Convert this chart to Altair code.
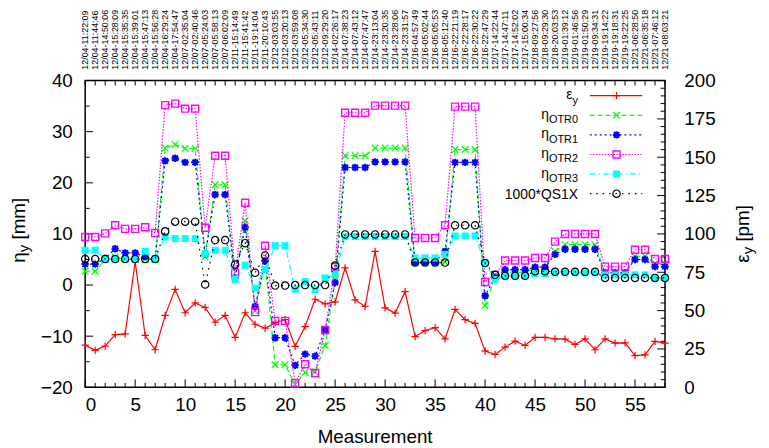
import altair as alt
import pandas as pd

# ---------------- data ----------------
measurement = list(range(59))

timestamps = [
    "12/04-11:22:09", "12/04-11:44:46", "12/04-14:50:06", "12/04-15:28:09", "12/04-15:35:35",
    "12/04-15:39:01", "12/04-15:47:13", "12/04-15:56:28", "12/04-16:29:24", "12/04-17:54:47",
    "12/07-02:35:04", "12/07-02:40:46", "12/07-05:24:03", "12/07-05:58:13", "12/07-06:02:09",
    "12/11-15:14:49", "12/11-15:41:42", "12/11-19:14:04", "12/11-20:10:43", "12/12-03:03:55",
    "12/12-03:20:13", "12/12-03:59:08", "12/12-05:34:30", "12/12-05:43:11", "12/12-09:29:20",
    "12/14-02:26:17", "12/14-07:38:23", "12/14-07:43:12", "12/14-07:47:47", "12/14-23:13:04",
    "12/14-23:20:35", "12/14-23:28:06", "12/14-23:31:57", "12/16-04:57:49", "12/16-05:02:44",
    "12/16-05:05:53", "12/16-05:12:40", "12/16-22:21:19", "12/16-22:28:17", "12/16-22:30:22",
    "12/16-22:47:29", "12/17-14:22:44", "12/17-14:47:11", "12/17-14:52:02", "12/17-15:00:34",
    "12/18-09:27:56", "12/18-09:29:30", "12/18-20:03:53", "12/19-01:39:12", "12/19-01:46:56",
    "12/19-01:50:29", "12/19-09:34:31", "12/19-19:14:22", "12/19-19:18:31", "12/19-19:22:25",
    "12/21-06:28:50", "12/21-06:35:18", "12/21-07:46:12", "12/21-08:03:21",
]

# emittance eps_y [pm] (right axis)
eps_y = [27.5, 24.1, 26.9, 34.4, 34.8, 81.7, 33.8, 24.5, 46.9, 63.9,
         48.6, 55.0, 52.1, 42.4, 46.9, 32.5, 48.6, 41.1, 38.5, 42.0,
         44.1, 26.7, 39.6, 57.4, 54.4, 55.7, 77.9, 57.0, 52.7, 88.6,
         51.8, 48.4, 62.4, 33.1, 37.0, 38.9, 31.6, 50.8, 44.1, 41.7,
         23.7, 21.4, 26.2, 30.1, 27.3, 32.5, 32.5, 31.6, 31.4, 27.9,
         31.6, 24.5, 31.6, 28.8, 29.0, 20.6, 21.1, 29.9, 28.8]

# dispersions eta_y [mm] (left axis)
eta_otr0 = [2.7, 2.7, 5.0, 5.5, 5.0, 5.0, 5.0, 5.0, 26.8, 27.5,
            26.7, 26.7, 5.5, 19.6, 19.6, 1.0, 12.6, -5.0, 4.5, -15.6,
            -15.6, -19.4, -17.1, -17.0, -11.8, 1.0, 25.3, 25.3, 25.3, 26.8,
            26.8, 26.8, 26.8, 4.3, 4.3, 4.3, 4.5, 26.5, 26.5, 26.5,
            -4.0, 1.7, 2.5, 2.5, 2.5, 3.3, 3.3, 6.6, 7.9, 7.9,
            7.9, 7.9, 2.4, 2.4, 2.4, 5.6, 5.6, 4.2, 4.2]
eta_otr1 = [4.1, 4.1, 5.2, 7.1, 6.3, 6.3, 5.6, 5.1, 24.3, 24.8,
            24.0, 24.0, 6.0, 17.7, 17.7, 1.4, 11.3, -4.2, 4.7, -10.3,
            -10.3, -15.7, -13.5, -13.9, -8.8, 0.5, 23.0, 23.0, 23.0, 24.1,
            24.1, 24.1, 24.1, 4.5, 4.5, 4.5, 6.6, 24.0, 24.0, 24.0,
            -2.1, 1.5, 3.0, 3.0, 3.0, 3.5, 3.5, 6.0, 7.0, 7.0,
            7.0, 7.0, 2.4, 2.4, 2.4, 5.0, 5.0, 3.6, 3.6]
eta_otr2 = [9.4, 9.4, 10.1, 11.7, 11.0, 11.0, 11.3, 10.2, 35.2, 35.5,
            34.5, 34.5, 11.2, 25.3, 25.3, 2.4, 16.1, -5.3, 7.7, -7.0,
            -7.0, -19.2, -15.5, -17.2, -8.8, 3.5, 33.7, 33.7, 33.7, 35.1,
            35.1, 35.1, 35.1, 9.2, 9.2, 9.2, 11.7, 34.9, 34.9, 34.9,
            0.6, 2.0, 4.8, 4.8, 4.8, 5.3, 5.3, 8.5, 10.0, 10.0,
            10.0, 10.0, 3.6, 3.6, 3.6, 6.9, 6.9, 5.1, 5.1]
eta_otr3 = [6.8, 6.8, 5.1, 5.1, 5.1, 5.1, 6.6, 5.1, 9.4, 9.1,
            9.1, 9.1, 6.1, 6.8, 6.8, 1.2, 3.9, -0.6, 3.0, 7.7,
            7.7, -0.8, 0.7, -0.9, 1.4, 2.1, 9.5, 9.5, 9.5, 9.5,
            9.5, 9.5, 9.5, 5.3, 5.3, 5.3, 6.0, 9.6, 9.6, 9.6,
            4.3, 1.1, 1.8, 1.8, 1.8, 2.2, 2.2, 2.4, 2.4, 2.4,
            2.4, 2.4, 2.0, 2.0, 2.0, 2.0, 2.0, 1.4, 1.4]
qs1x = [5.1, 5.1, 5.1, 5.1, 5.1, 5.1, 5.1, 5.1, 10.5, 12.4,
        12.4, 12.4, 0.1, 8.8, 8.8, 4.0, 8.2, 2.4, 5.8, -0.1,
        -0.1, 0.0, 0.0, 0.0, 0.0, 3.8, 9.9, 9.9, 9.9, 9.9,
        9.9, 9.9, 9.9, 4.4, 4.4, 4.4, 4.4, 11.7, 11.7, 11.7,
        4.3, 2.0, 1.8, 1.8, 1.8, 2.7, 2.7, 2.6, 2.6, 2.6,
        2.6, 2.6, 1.4, 1.4, 1.4, 1.4, 1.4, 1.4, 1.4]

x_major = list(range(0, 56, 5))
x_all = list(range(0, 59))
x_minor = [v for v in x_all if v % 5 != 0]
left_major = [-20, -10, 0, 10, 20, 30, 40]
left_minor = [-15, -5, 5, 15, 25, 35]
right_major = [0, 25, 50, 75, 100, 125, 150, 175, 200]
right_minor = [v for v in range(0, 201, 5) if v % 25 != 0]

# ---------------- layout ----------------
W, H = 586, 310
FONT = "Liberation Sans"
AXF = 19

df = pd.DataFrame({"i": measurement, "eps": eps_y, "otr0": eta_otr0, "otr1": eta_otr1,
                   "otr2": eta_otr2, "otr3": eta_otr3, "qs": qs1x})
ts_df = pd.DataFrame({"i": measurement, "label": timestamps})

xs = alt.Scale(domain=[0, 58], nice=False, zero=False)
yl = alt.Scale(domain=[-20, 40], nice=False, zero=False)
yr = alt.Scale(domain=[0, 200], nice=False, zero=False)

x_axis = alt.Axis(values=x_major, title=None, grid=False, ticks=False, domain=False,
                  labelFontSize=AXF, labelFont=FONT, labelPadding=8, labelColor="black")
yl_axis = alt.Axis(orient="left", values=left_major, title=None, grid=False, ticks=False,
                   domain=False, labelFontSize=AXF, labelFont=FONT, labelPadding=13,
                   labelColor="black")
yr_axis = alt.Axis(orient="right", values=right_major, title=None, grid=False, ticks=False,
                   domain=False, labelFontSize=AXF, labelFont=FONT, labelPadding=19,
                   labelColor="black")


def X(field="i"):
    return alt.X(f"{field}:Q", scale=xs, axis=x_axis)


def YL(field):
    return alt.Y(f"{field}:Q", scale=yl, axis=yl_axis)


def YR(field):
    return alt.Y(f"{field}:Q", scale=yr, axis=yr_axis)


one = pd.DataFrame({"a": [0]})

PLUS = "M-1,0L1,0M0,-1L0,1"
CROSS = "M-1,-1L1,1M-1,1L1,-1"
STAR = "M-1,0L1,0M0,-1L0,1M-0.75,-0.75L0.75,0.75M-0.75,0.75L0.75,-0.75"

CW = {"η": 0.556, "ε": 0.446, "y": 0.5, "O": 0.778, "T": 0.611, "R": 0.722, " ": 0.278,
      "[": 0.278, "]": 0.278, "m": 0.833, "p": 0.556, "*": 0.389, "Q": 0.778, "S": 0.667,
      "X": 0.667}


def tw(s, size):
    return sum(CW.get(c, 0.556) for c in s) * size


# legend geometry (plot coordinates)
LEG_TX = 498
LEG_X1, LEG_X2, LEG_XM = 510, 563, 537
LEG_Y0, LEG_DY = 15.3, 19.8
LEG_F, LEG_SF = 14, 11


def series(field, color, dash, shape, filled, size, sw, ych, row, sym, sub):
    base = alt.Chart(df).encode(x=X(), y=ych(field))
    lkw = dict(color=color, strokeWidth=1.2)
    if dash:
        lkw["strokeDash"] = dash
    line = base.mark_line(**lkw)
    pts = base.mark_point(shape=shape, color=color, filled=filled, size=size,
                          strokeWidth=sw, opacity=1)
    ry = LEG_Y0 + LEG_DY * row
    leg_line = alt.Chart(one).mark_rule(**lkw).encode(
        x=alt.value(LEG_X1), x2=alt.value(LEG_X2), y=alt.value(ry))
    leg_pt = alt.Chart(one).mark_point(shape=shape, color=color, filled=filled, size=size,
                                       strokeWidth=sw, opacity=1).encode(
        x=alt.value(LEG_XM), y=alt.value(ry))
    texts = []
    if sub:
        texts.append(alt.Chart(one).mark_text(align="right", baseline="alphabetic",
                                              fontSize=LEG_SF, font=FONT, color="black").encode(
            x=alt.value(LEG_TX), y=alt.value(ry + 8), text=alt.value(sub)))
        texts.append(alt.Chart(one).mark_text(align="right", baseline="alphabetic",
                                              fontSize=LEG_F, font=FONT, color="black").encode(
            x=alt.value(LEG_TX - tw(sub, LEG_SF)), y=alt.value(ry + 3.5), text=alt.value(sym)))
    else:
        texts.append(alt.Chart(one).mark_text(align="right", baseline="alphabetic",
                                              fontSize=LEG_F, font=FONT, color="black").encode(
            x=alt.value(LEG_TX), y=alt.value(ry + 5), text=alt.value(sym)))
    return [line, pts], [leg_line, leg_pt] + texts


def ticks(values, length, where):
    d = pd.DataFrame({"v": values})
    c = alt.Chart(d).mark_rule(color="black", strokeWidth=1)
    if where == "bottom":
        return c.encode(x=X("v"), y=alt.value(H), y2=alt.value(H - length))
    if where == "top":
        return c.encode(x=X("v"), y=alt.value(0), y2=alt.value(length))
    if where == "left":
        return c.encode(y=YL("v"), x=alt.value(0), x2=alt.value(length))
    return c.encode(y=YR("v"), x=alt.value(W), x2=alt.value(W - length))


def rot_text(s, x, y, size):
    return alt.Chart(one).mark_text(angle=270, align="left", baseline="alphabetic",
                                    fontSize=size, font=FONT, color="black").encode(
        x=alt.value(x), y=alt.value(y), text=alt.value(s))


# ---------------- series ----------------
eps_d, eps_leg = series("eps", "#ff0000", None, PLUS, False, 55, 1.2, YR, 0, "ε", "y")
o0_d, o0_leg = series("otr0", "#00ff00", [5, 3], CROSS, False, 45, 1.3, YL, 1, "η", "OTR0")
o1_d, o1_leg = series("otr1", "#0000ff", [2, 3], STAR, False, 55, 2.0, YL, 2, "η", "OTR1")
o2_d, o2_leg = series("otr2", "#ff00ff", [1.5, 1.5], "square", False, 50, 1.4, YL, 3, "η", "OTR2")
o3_d, o3_leg = series("otr3", "#00ffff", [6, 3, 1.5, 3], "square", True, 50, 1, YL, 4, "η", "OTR3")
qs_d, qs_leg = series("qs", "#000000", [1.5, 5], "circle", False, 55, 1.2, YL, 5, "1000*QS1X", None)

# top timestamp labels
ts_layer = alt.Chart(ts_df).mark_text(angle=270, align="left", baseline="middle",
                                      fontSize=9, font=FONT, color="black").encode(
    x=X(), y=alt.value(-11), text="label:N")

# axis titles (with subscripts)
LT_X, LT_Y = -61, 184
left_title = [
    rot_text("η", LT_X, LT_Y, AXF),
    rot_text("y", LT_X + 4, LT_Y - tw("η", AXF), 15),
    rot_text("[mm]", LT_X, LT_Y - tw("η", AXF) - tw("y", 15) - tw(" ", AXF), AXF),
]
RT_X, RT_Y = 671, 184
right_title = [
    rot_text("ε", RT_X, RT_Y, AXF),
    rot_text("y", RT_X + 4, RT_Y - tw("ε", AXF), 15),
    rot_text("[pm]", RT_X, RT_Y - tw("ε", AXF) - tw("y", 15) - tw(" ", AXF), AXF),
]
x_title = alt.Chart(one).mark_text(align="center", baseline="alphabetic", fontSize=AXF,
                                   font=FONT, color="black").encode(
    x=alt.value(W / 2), y=alt.value(366), text=alt.value("Measurement"))

right_group = alt.layer(*eps_d, ticks(right_major, 8, "right"), ticks(right_minor, 4.5, "right"))
left_group = alt.layer(
    ticks(x_major, 8, "bottom"), ticks(x_minor, 4.5, "bottom"), ticks(x_all, 5, "top"),
    ticks(left_major, 8, "left"), ticks(left_minor, 4.5, "left"),
    *o0_d, *o1_d, *o2_d, *o3_d, *qs_d,
    *eps_leg, *o0_leg, *o1_leg, *o2_leg, *o3_leg, *qs_leg,
    ts_layer, *left_title, *right_title, x_title,
)

chart = alt.layer(right_group, left_group).resolve_scale(y="independent").properties(
    width=W, height=H,
    autosize=alt.AutoSizeParams(type="none"),
    padding={"left": 78, "top": 71, "right": 97, "bottom": 59},
    background="white",
).configure_view(stroke="black", strokeWidth=1.5)

chart.save("out.html", embed_options={"renderer": "svg", "actions": False})
